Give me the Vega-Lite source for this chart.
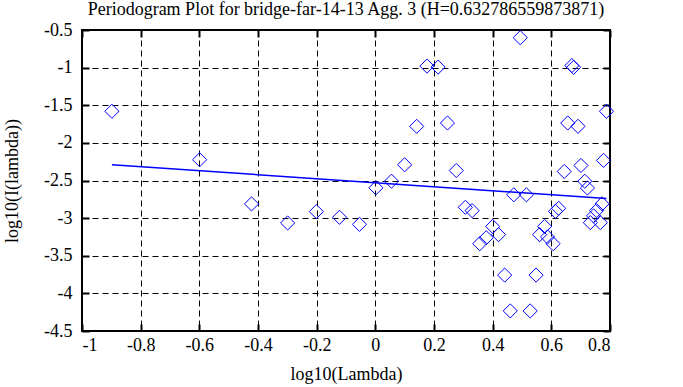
{
  "$schema": "https://vega.github.io/schema/vega-lite/v6.json",
  "width": 528,
  "height": 301,
  "autosize": "none",
  "padding": {"left": 82, "top": 30, "right": 73, "bottom": 56},
  "background": "white",
  "title": {"text": "Periodogram Plot for bridge-far-14-13 Agg. 3 (H=0.632786559873871)", "font": "Liberation Serif", "fontSize": 18, "fontWeight": "normal", "color": "black", "offset": 2, "anchor": "middle"},
  "config": {
    "view": {"stroke": "black", "strokeWidth": 2},
    "style": {"guide-label": {"font": "Liberation Serif", "fontSize": 18, "fill": "black"}, "guide-title": {"font": "Liberation Serif", "fontSize": 18, "fontWeight": "normal", "fill": "black"}},
    "axis": {
      "labelFont": "Liberation Serif", "labelFontSize": 18, "labelColor": "black",
      "titleFont": "Liberation Serif", "titleFontSize": 18, "titleFontWeight": "normal", "titleColor": "black",
      "grid": true, "gridColor": "black", "gridDash": [6, 4], "gridOpacity": 1, "gridWidth": 1,
      "domain": false, "tickColor": "black", "tickSize": -7, "tickWidth": 2, "labelPadding": 17
    }
  },
  "resolve": {"axis": {"x": "independent", "y": "independent"}},
  "layer": [
    {
      "data": {"values": [
        {"x": -0.898, "y": -1.58}, {"x": -0.599, "y": -2.224}, {"x": -0.422, "y": -2.811}, {"x": -0.299, "y": -3.064},
        {"x": -0.201, "y": -2.913}, {"x": -0.122, "y": -2.989}, {"x": -0.054, "y": -3.083}, {"x": 0.002, "y": -2.597},
        {"x": 0.055, "y": -2.509}, {"x": 0.100, "y": -2.291}, {"x": 0.141, "y": -1.78}, {"x": 0.176, "y": -0.98},
        {"x": 0.214, "y": -0.993}, {"x": 0.246, "y": -1.736}, {"x": 0.276, "y": -2.367}, {"x": 0.307, "y": -2.856},
        {"x": 0.330, "y": -2.90}, {"x": 0.356, "y": -3.34}, {"x": 0.378, "y": -3.26}, {"x": 0.400, "y": -3.11},
        {"x": 0.420, "y": -3.22}, {"x": 0.441, "y": -3.757}, {"x": 0.460, "y": -4.233}, {"x": 0.472, "y": -2.69},
        {"x": 0.494, "y": -0.602}, {"x": 0.515, "y": -2.69}, {"x": 0.528, "y": -4.233}, {"x": 0.548, "y": -3.757},
        {"x": 0.560, "y": -3.22}, {"x": 0.577, "y": -3.11}, {"x": 0.587, "y": -3.25}, {"x": 0.606, "y": -3.34},
        {"x": 0.614, "y": -2.91}, {"x": 0.625, "y": -2.87}, {"x": 0.644, "y": -2.38}, {"x": 0.656, "y": -1.736},
        {"x": 0.670, "y": -0.973}, {"x": 0.676, "y": -0.996}, {"x": 0.691, "y": -1.78}, {"x": 0.701, "y": -2.30},
        {"x": 0.714, "y": -2.51}, {"x": 0.723, "y": -2.60}, {"x": 0.733, "y": -3.06}, {"x": 0.744, "y": -2.97},
        {"x": 0.754, "y": -2.90}, {"x": 0.767, "y": -3.06}, {"x": 0.773, "y": -2.81}, {"x": 0.778, "y": -2.233},
        {"x": 0.788, "y": -1.58}
      ]},
      "mark": {"type": "point", "shape": "diamond", "size": 200, "filled": false, "stroke": "#0000ff", "strokeWidth": 1, "opacity": 1},
      "encoding": {
        "x": {"field": "x", "type": "quantitative", "scale": {"domain": [-1, 0.8], "nice": false, "zero": false},
          "axis": {"title": "log10(Lambda)", "orient": "bottom", "values": [-1, -0.8, -0.6, -0.4, -0.2, 0, 0.2, 0.4, 0.6, 0.8], "labelExpr": "'' + datum.value", "labelFont": "Liberation Serif", "labelFontSize": 18, "labelPadding": 12, "titlePadding": 11}},
        "y": {"field": "y", "type": "quantitative", "scale": {"domain": [-4.5, -0.5], "nice": false, "zero": false},
          "axis": {"title": "log10(I(lambda))", "orient": "left", "values": [-4.5, -4, -3.5, -3, -2.5, -2, -1.5, -1, -0.5], "labelExpr": "'' + datum.value", "labelFont": "Liberation Serif", "labelFontSize": 18, "titlePadding": 22}}
      }
    },
    {
      "data": {"values": [{"x": -0.898, "y": -2.291}, {"x": 0.788, "y": -2.739}]},
      "mark": {"type": "line", "color": "#0000ff", "strokeWidth": 1.5},
      "encoding": {
        "x": {"field": "x", "type": "quantitative", "axis": {"orient": "top", "labels": false, "grid": false, "title": null, "values": [-1, -0.8, -0.6, -0.4, -0.2, 0, 0.2, 0.4, 0.6, 0.8]}},
        "y": {"field": "y", "type": "quantitative", "axis": {"orient": "right", "labels": false, "grid": false, "title": null, "values": [-4.5, -4, -3.5, -3, -2.5, -2, -1.5, -1, -0.5]}}
      }
    }
  ]
}
